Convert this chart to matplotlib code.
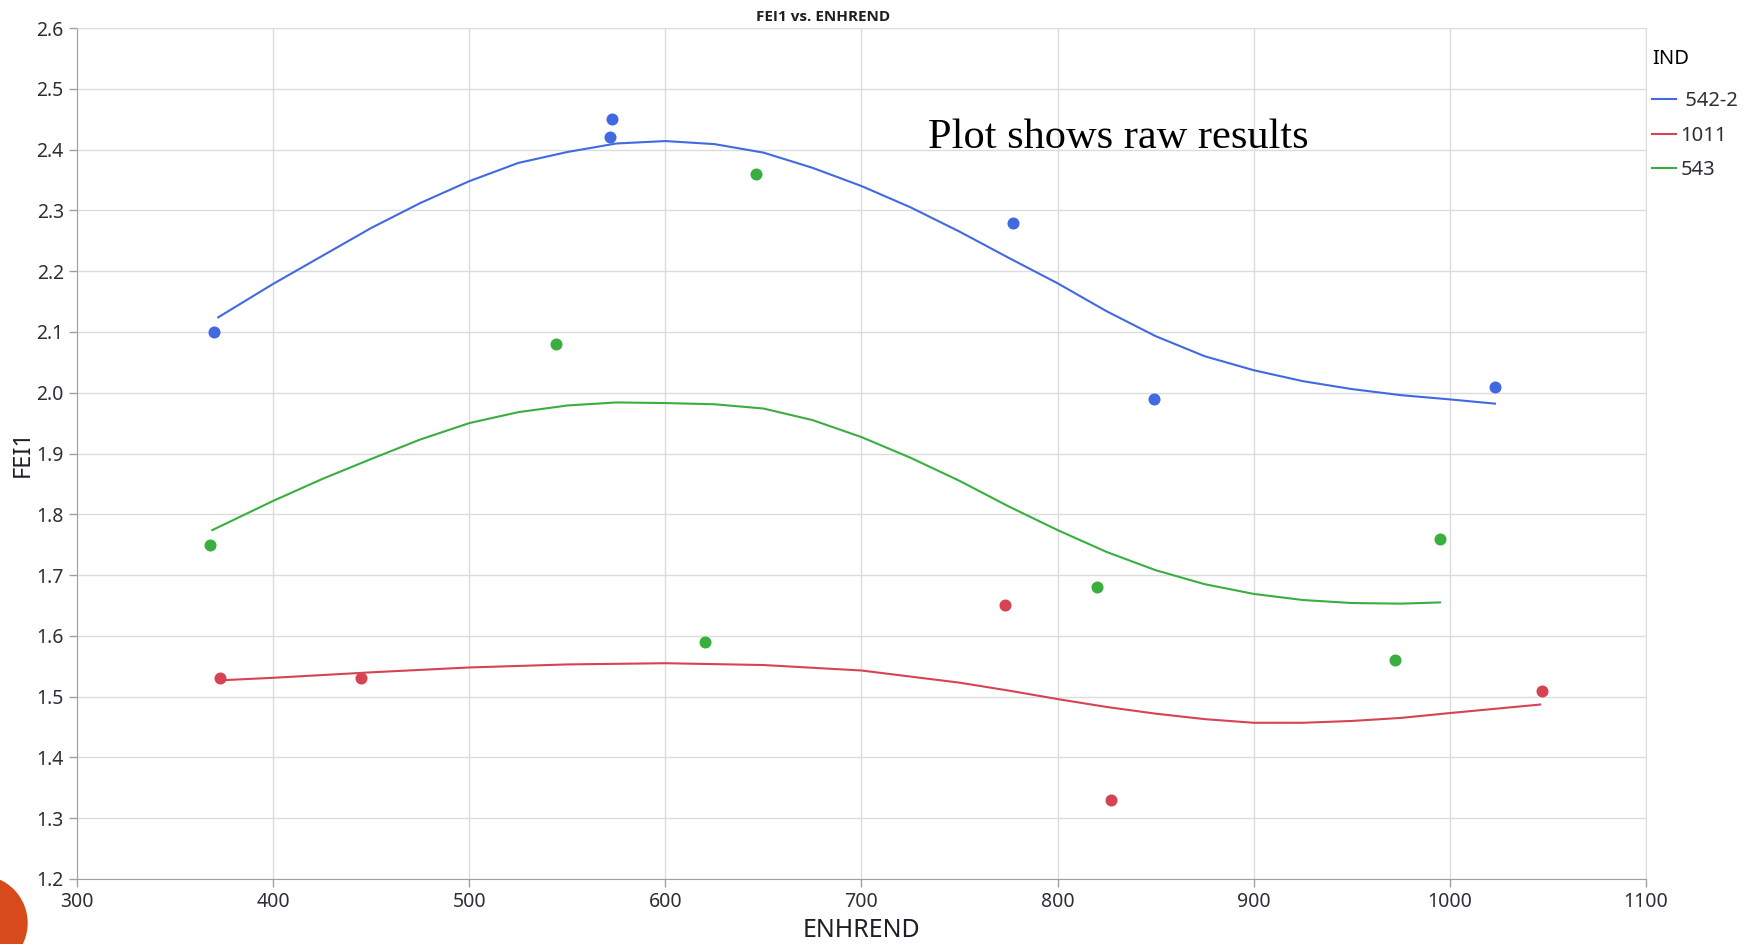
import matplotlib
matplotlib.use("Agg")
import matplotlib.pyplot as plt
from matplotlib.patches import Ellipse

# raw points per IND group
blue_x = [370, 573, 572, 777, 849, 1023]
blue_y = [2.10, 2.45, 2.42, 2.28, 1.99, 2.01]
red_x = [373, 445, 773, 827, 1047]
red_y = [1.53, 1.53, 1.65, 1.33, 1.51]
green_x = [368, 544, 646, 620, 820, 972, 995]
green_y = [1.75, 2.08, 2.36, 1.59, 1.68, 1.56, 1.76]

# smoother curves
blue_cx = [372, 400, 425, 450, 475, 500, 525, 550, 575, 600, 625, 650, 675, 700,
           725, 750, 775, 800, 825, 850, 875, 900, 925, 950, 975, 1000, 1023]
blue_cy = [2.124, 2.179, 2.225, 2.271, 2.312, 2.348, 2.378, 2.396, 2.410, 2.414, 2.409,
           2.395, 2.370, 2.340, 2.305, 2.265, 2.222, 2.180, 2.134, 2.093, 2.060, 2.037,
           2.019, 2.006, 1.996, 1.989, 1.982]
green_cx = [369, 400, 425, 450, 475, 500, 525, 550, 575, 600, 625, 650, 675, 700,
            725, 750, 775, 800, 825, 850, 875, 900, 925, 950, 975, 995]
green_cy = [1.774, 1.822, 1.858, 1.891, 1.923, 1.950, 1.968, 1.979, 1.984, 1.983, 1.981,
            1.974, 1.955, 1.927, 1.893, 1.855, 1.813, 1.774, 1.738, 1.708, 1.685, 1.669,
            1.659, 1.654, 1.653, 1.655]
red_cx = [374, 400, 450, 500, 550, 600, 650, 700, 750, 775, 800, 825, 850, 875,
          900, 925, 950, 975, 1000, 1046]
red_cy = [1.527, 1.531, 1.540, 1.548, 1.553, 1.555, 1.552, 1.543, 1.523, 1.510, 1.496,
          1.483, 1.472, 1.463, 1.457, 1.457, 1.460, 1.465, 1.473, 1.487]

x_ticks = [300, 400, 500, 600, 700, 800, 900, 1000, 1100]
y_ticks = [1.2, 1.3, 1.4, 1.5, 1.6, 1.7, 1.8, 1.9, 2.0, 2.1, 2.2, 2.3, 2.4, 2.5, 2.6]

BLUE = '#4169E1'
RED = '#D64352'
GREEN = '#3AAE3F'

plt.rcParams['font.family'] = ['Noto Sans', 'DejaVu Sans']

W, H = 1758, 944
fig = plt.figure(figsize=(W / 100, H / 100), dpi=100)
ax = fig.add_axes([77 / W, 1 - 879 / H, (1646 - 77) / W, (879 - 28) / H])

ax.plot(blue_cx, blue_cy, color=BLUE, lw=1.5, label=' 542-2')
ax.plot(red_cx, red_cy, color=RED, lw=1.5, label='1011')
ax.plot(green_cx, green_cy, color=GREEN, lw=1.5, label='543')
ax.scatter(blue_x, blue_y, s=75, color=BLUE, zorder=3, linewidths=0)
ax.scatter(red_x, red_y, s=75, color=RED, zorder=3, linewidths=0)
ax.scatter(green_x, green_y, s=75, color=GREEN, zorder=3, linewidths=0)

ax.set_xlim(300, 1100)
ax.set_ylim(1.2, 2.6)
ax.set_xticks(x_ticks)
ax.set_yticks(y_ticks)
ax.set_yticklabels([f'{v:.1f}' for v in y_ticks])
ax.grid(True, color='#DCDCDC', lw=1)
ax.set_axisbelow(True)
ax.tick_params(colors='#A0A0A0', labelcolor='#2E2E38', labelsize=14, length=6, width=1)
for side in ['top', 'right']:
    ax.spines[side].set_color('#DCDCDC')
for side in ['left', 'bottom']:
    ax.spines[side].set_color('#A0A0A0')

ax.set_xlabel('ENHREND', fontsize=18, color='#1E1E28', labelpad=4)
ax.set_ylabel('FEI1', fontsize=17, color='#1E1E28', labelpad=1)

ax.text(734, 2.419, 'Plot shows raw results', family='Liberation Serif',
        fontsize=30.5, va='center', ha='left', color='black')

fig.text(823 / W, 1 - 17 / H, 'FEI1 vs. ENHREND', family=['Open Sans', 'DejaVu Sans'],
         fontsize=11, fontweight='bold', ha='center', va='center', color='#1E1E28')

leg = ax.legend(title='IND', loc='upper left', bbox_to_anchor=(1652 / W, 1 - 49 / H),
                bbox_transform=fig.transFigure, frameon=False, handlelength=1.2,
                handletextpad=0.2, borderaxespad=0, borderpad=0, labelspacing=0.72,
                fontsize=14.5, title_fontsize=14.5, alignment='left')
leg._legend_box.sep = 16
for t in leg.get_texts():
    t.set_color('#2E2E38')

# decorative slide circle in the bottom-left corner
fig.add_artist(Ellipse((-20 / W, 1 - 923 / H), 94 / W, 94 / H,
                       transform=fig.transFigure, color='#D64A1B', clip_on=False))

fig.savefig('out.png', dpi=100)
